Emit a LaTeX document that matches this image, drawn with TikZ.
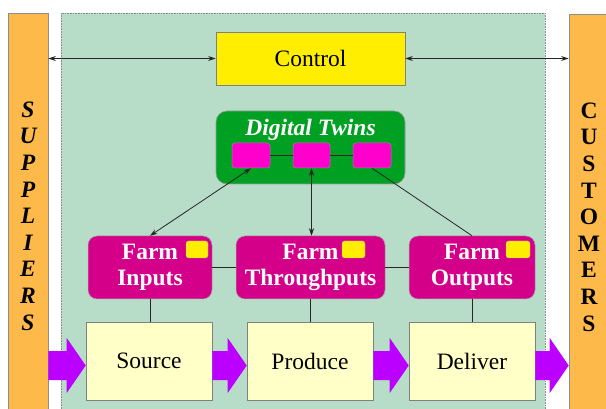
\documentclass[tikz,border=0pt]{standalone}
\usepackage{fontspec}
\setmainfont{Liberation Serif}
\usetikzlibrary{arrows.meta,calc}
\definecolor{barorange}{HTML}{FDB94A}
\definecolor{panelgreen}{HTML}{B7DDC9}
\definecolor{ctrlyellow}{HTML}{FFEE00}
\definecolor{dtgreen}{HTML}{00A122}
\definecolor{twinpink}{HTML}{FF00CC}
\definecolor{farmmag}{HTML}{D4008A}
\definecolor{procyellow}{HTML}{FFFFC8}
\definecolor{fatpurple}{HTML}{BB00FF}
\tikzset{
  txt/.style={font=\fontsize{23.5}{26.5}\selectfont},
  bar/.style={fill=barorange, draw=black!45, line width=0.6pt, minimum width=40pt, minimum height=396pt, inner sep=0pt},
  barlabel/.style={yshift=-5pt, inner sep=0pt, align=center, font=\fontsize{23.5}{26.6}\selectfont\bfseries},
  ctrlbox/.style={fill=ctrlyellow, draw=black!50, line width=0.6pt, minimum width=189pt, minimum height=53pt, inner sep=0pt, txt},
  dtbox/.style={fill=dtgreen, draw=black!40, line width=0.6pt, rounded corners=11pt, minimum width=189pt, minimum height=73pt, inner sep=0pt},
  twin/.style={fill=twinpink, draw=black!45, line width=0.5pt, rounded corners=3pt, minimum width=38pt, minimum height=25pt, inner sep=0pt},
  farm/.style={fill=farmmag, draw=black!35, line width=0.5pt, rounded corners=9pt, minimum height=63pt, inner sep=0pt, align=center, text=white, font=\fontsize{23.5}{26}\selectfont\bfseries},
  flag/.style={fill=ctrlyellow, draw=black!30, line width=0.4pt, rounded corners=2.5pt, minimum height=17pt, inner sep=0pt},
  proc/.style={fill=procyellow, draw=black!50, line width=0.6pt, minimum width=126pt, minimum height=78pt, inner sep=0pt, txt},
  link/.style={draw=black!85, line width=0.8pt},
  biarrow/.style={link, {Stealth[length=7.5pt,width=5pt]}-{Stealth[length=7.5pt,width=5pt]}},
  fatarrow/.style={fill=fatpurple},
}
\newcommand\fatarrowdraw[2]{%
  \fill[fatarrow] let \p1=(#1.east), \p2=(#2.west) in
    (\x1,-351pt) -- (\x2-19pt,-351pt) -- (\x2-19pt,-338pt) -- (\x2,-365.5pt)
    -- (\x2-19pt,-393pt) -- (\x2-19pt,-380pt) -- (\x1,-380pt) -- cycle;}
\begin{document}
\begin{tikzpicture}[x=1pt,y=-1pt]
\useasboundingbox (0,0) rectangle (606,409);
% panel
\fill[panelgreen] (61,13) rectangle (545,409);
\draw[black!45, densely dotted, line width=0.6pt] (61,409) -- (61,13) -- (545,13) -- (545,409);
% side bars
\node[bar, label={[barlabel, font=\fontsize{23.5}{26.6}\selectfont\bfseries\itshape]center:S\\U\\P\\P\\L\\I\\E\\R\\S}] (sup) at (28,211) {};
\node[bar, minimum height=395pt, label={[barlabel, yshift=-0.5pt]center:C\\U\\S\\T\\O\\M\\E\\R\\S}] (cus) at (589,211.5) {};
% control
\node[ctrlbox] (ctrl) at (310.5,58.5) {Control};
% digital twins
\node[dtbox] (dt) at (310.5,147.5) {};
\node[font=\fontsize{23.5}{26}\selectfont\bfseries\itshape, text=white, inner sep=0pt] (dtt) at (310.5,130) {Digital Twins};
\node[twin] (t1) at (251,155.5) {};
\node[twin, minimum width=37pt] (t2) at (311.5,155.5) {};
\node[twin] (t3) at (372,155.5) {};
% farm boxes
\node[farm, minimum width=124pt] (fi) at (150,267.5) {Farm\\Inputs};
\node[farm, minimum width=149pt] (ft) at (310.5,267.5) {Farm\\Throughputs};
\node[farm, minimum width=126pt] (fo) at (472,267.5) {Farm\\Outputs};
\node[flag, minimum width=22pt] (f1) at (197,249.5) {};
\node[flag, minimum width=23pt] (f2) at (353.5,249.5) {};
\node[flag, minimum width=24pt] (f3) at (518,249.5) {};
% process boxes
\node[proc] (src) at (149,361) {Source};
\node[proc] (prd) at (310,361) {Produce};
\node[proc] (dlv) at (472,361) {Deliver};
% control arrows
\draw[biarrow] (sup.east |- ctrl.west) -- (ctrl.west);
\draw[biarrow] (ctrl.east) -- (cus.west |- ctrl.east);
% twin links
\draw[link] (t1.east) -- (t2.west);
\draw[link] (t2.east) -- (t3.west);
\draw[biarrow] (t1.south) -- (fi.north);
\draw[biarrow] (t2.south) -- (t2.south |- ft.north);
\draw[link] (t3.south) -- (fo.north);
% farm links
\draw[link] (fi.east) -- (ft.west);
\draw[link] (ft.east) -- (fo.west);
\draw[link] (fi.south) -- (fi.south |- src.north);
\draw[link] (ft.south) -- (ft.south |- prd.north);
\draw[link] (fo.south) -- (fo.south |- dlv.north);
% fat arrows
\fatarrowdraw{sup}{src}
\fatarrowdraw{src}{prd}
\fatarrowdraw{prd}{dlv}
\fatarrowdraw{dlv}{cus}
\end{tikzpicture}
\end{document}
